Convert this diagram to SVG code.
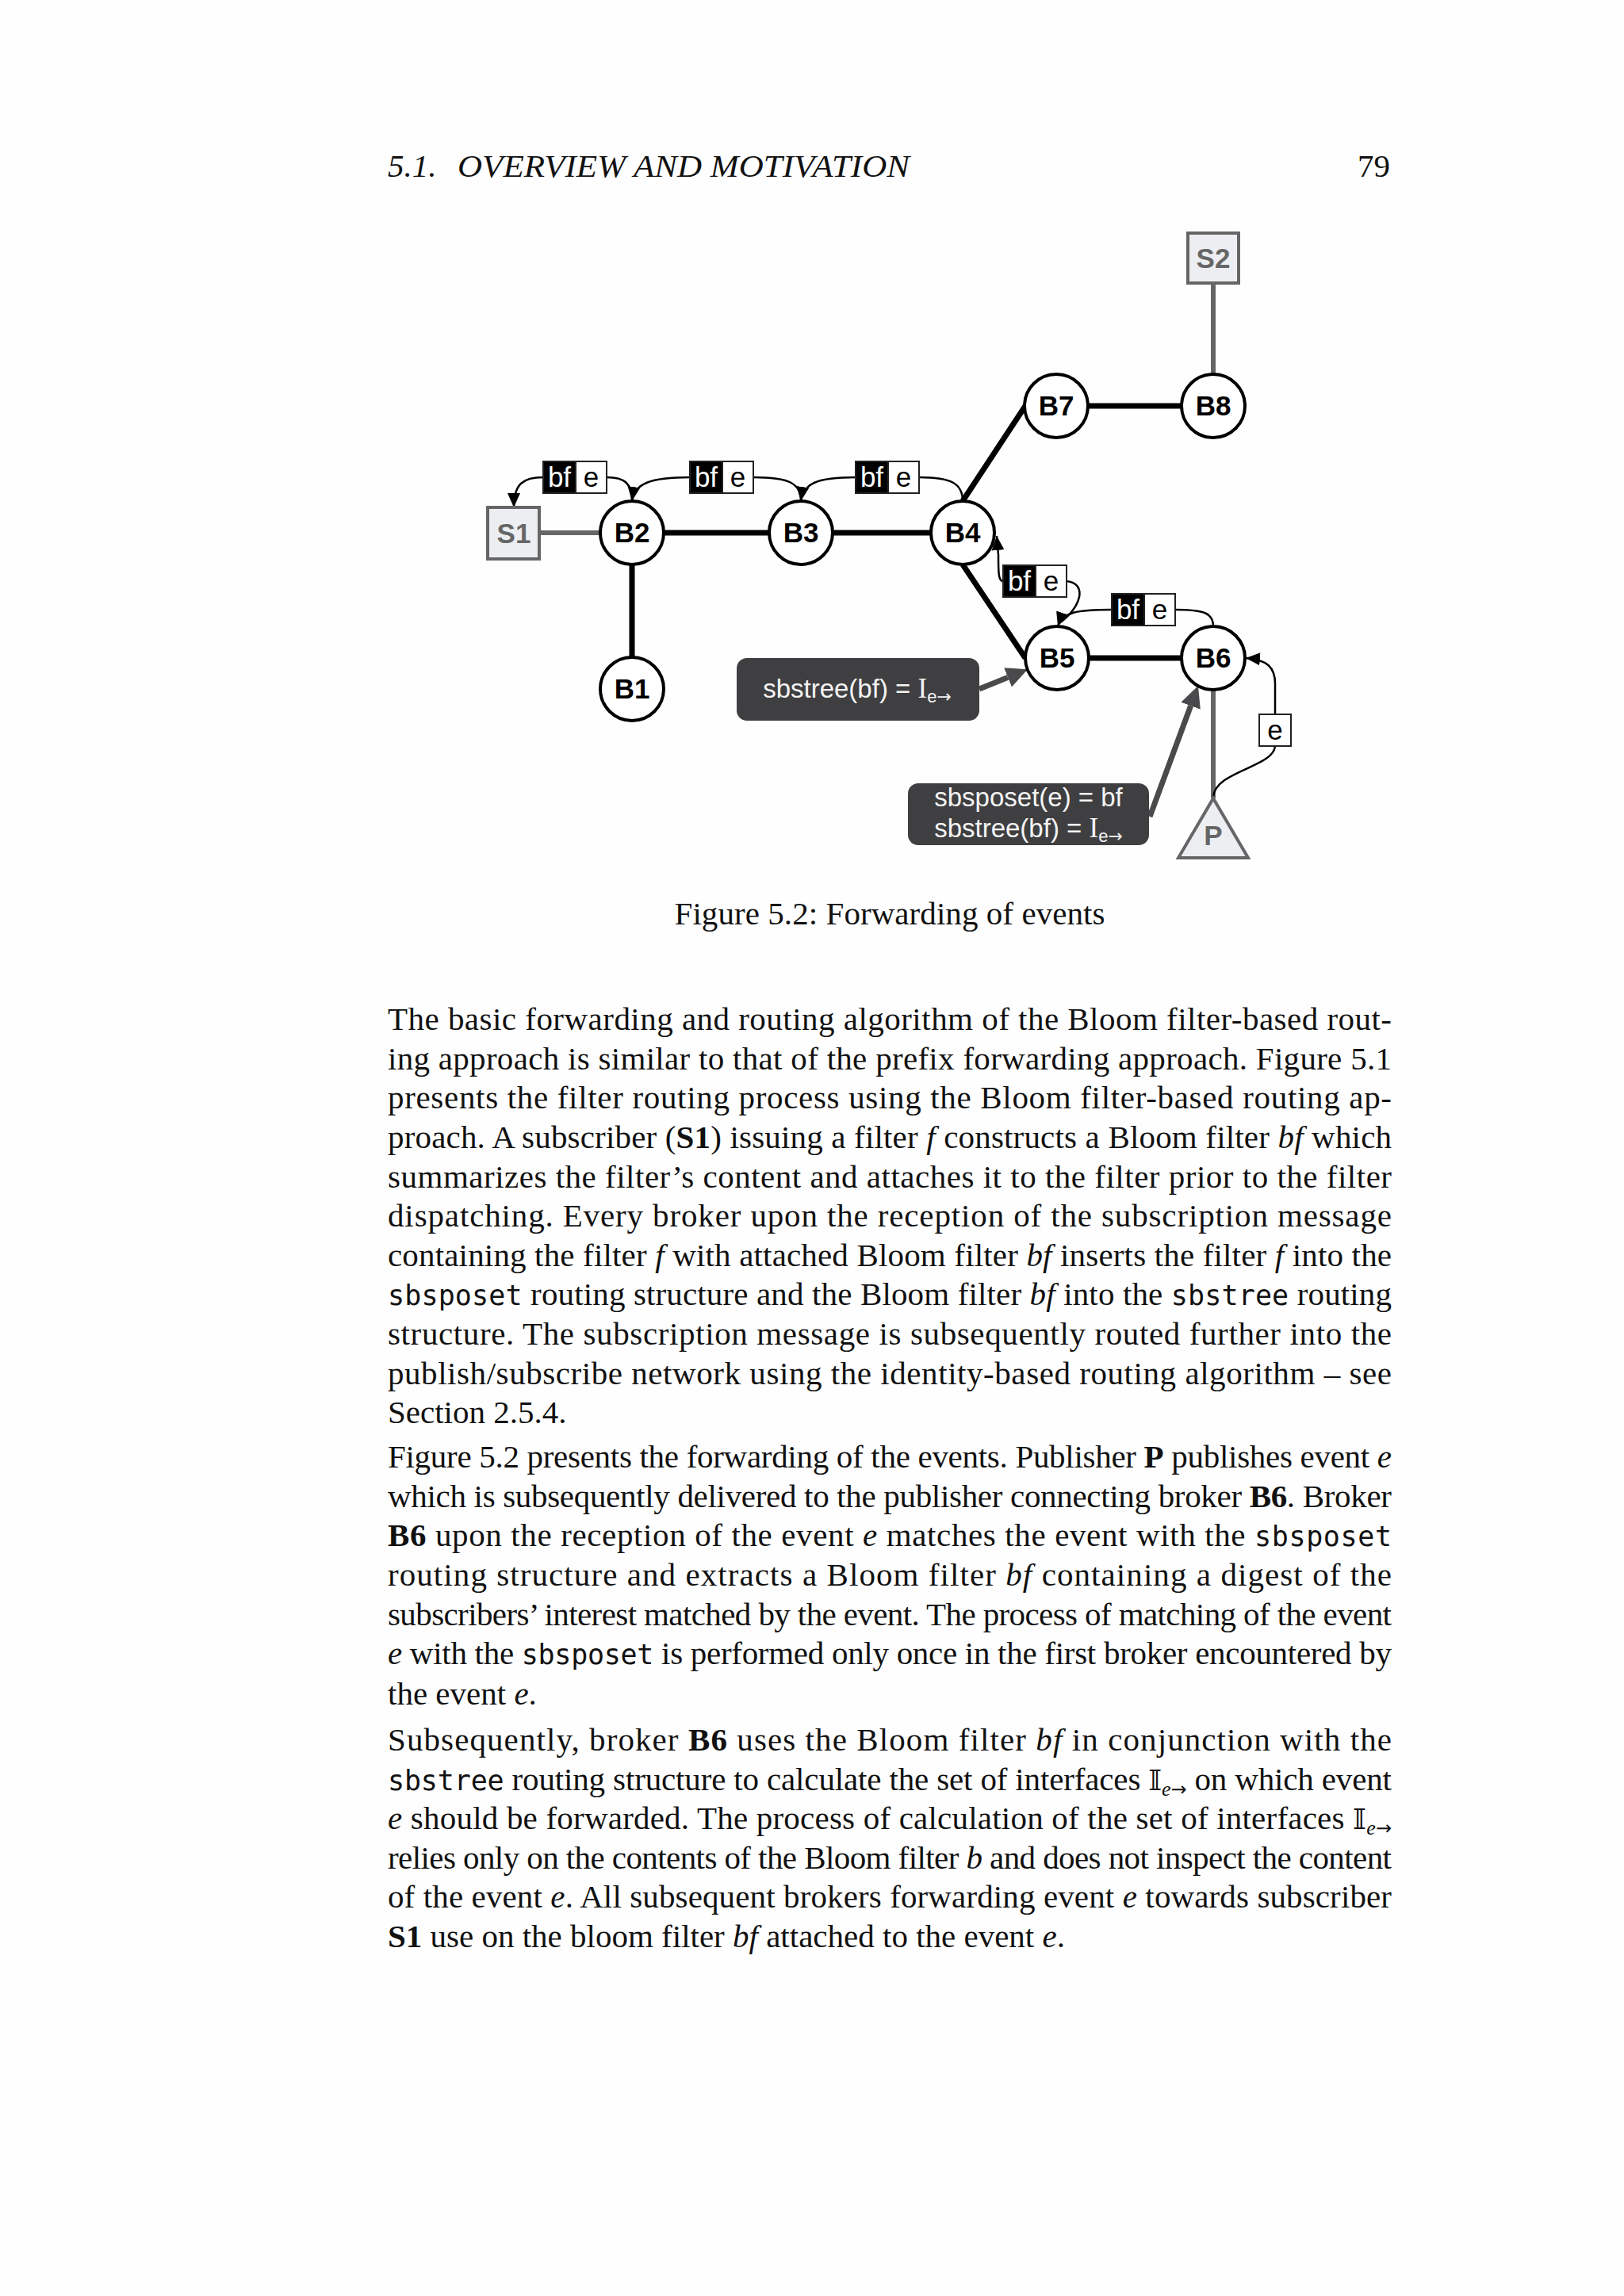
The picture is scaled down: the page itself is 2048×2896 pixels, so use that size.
<svg xmlns="http://www.w3.org/2000/svg" width="2048" height="2896" viewBox="0 0 2048 2896">
<defs>
<style>
.bg{fill:#fefefe}
.node{fill:#fff;stroke:#000;stroke-width:4}
.sub{fill:#eceef2;stroke:#666;stroke-width:4}
.bl{font-family:"Liberation Sans",Arial,sans-serif;font-weight:bold;font-size:35px;text-anchor:middle;fill:#000}
.gl{font-family:"Liberation Sans",Arial,sans-serif;font-weight:bold;font-size:35px;text-anchor:middle;fill:#666}
.edge{stroke:#000;stroke-width:7;fill:none}
.gedge{stroke:#666;stroke-width:6;fill:none}
.flow{stroke:#000;stroke-width:2.5;fill:none}
.garrow{stroke:#4a4a4c;stroke-width:7;fill:none}
.lblk{fill:#000;stroke:#222;stroke-width:2}
.lwht{fill:#fff;stroke:#222;stroke-width:2}
.lt{font-family:"Liberation Sans",Arial,sans-serif;font-size:35px;text-anchor:middle}
.ann{fill:#3f3f41}
.at{font-family:"Liberation Sans",Arial,sans-serif;font-size:33px;fill:#f4f4f4;text-anchor:middle}
.ser{font-family:"Liberation Serif","Times New Roman",serif}
.arr{font-family:"DejaVu Sans",sans-serif}
.body{font-family:"Liberation Serif","Times New Roman",serif;font-size:41px;fill:#111}
.it{font-style:italic}
.bd{font-weight:bold}
.mono{font-family:"DejaVu Sans Mono","Liberation Mono",monospace;font-size:35px}
</style>
<marker id="ah" markerUnits="userSpaceOnUse" markerWidth="19" markerHeight="16" refX="18" refY="8" orient="auto">
<path d="M0,0 L18,8 L0,16 z" fill="#000"/>
</marker>
<marker id="gah" markerUnits="userSpaceOnUse" markerWidth="30" markerHeight="26" refX="0" refY="13" orient="auto">
<path d="M0,0 L27,13 L0,26 z" fill="#4a4a4c"/>
</marker>
</defs>
<rect class="bg" x="0" y="0" width="2048" height="2896"/>

<g id="header">
<text class="body it" x="489" y="223" font-size="42">5.1.</text>
<text class="body it" x="577" y="223" font-size="42" textLength="570" lengthAdjust="spacingAndGlyphs">OVERVIEW AND MOTIVATION</text>
<text class="body" x="1753" y="223" font-size="42" text-anchor="end">79</text>
</g>

<g id="connectors">
<line class="gedge" x1="680" y1="672" x2="757" y2="672"/>
<line class="edge" x1="837" y1="672" x2="970" y2="672"/>
<line class="edge" x1="1050" y1="672" x2="1174" y2="672"/>
<line class="edge" x1="797" y1="712" x2="797" y2="829"/>
<line class="edge" x1="1214" y1="632" x2="1293" y2="512"/>
<line class="edge" x1="1372" y1="512" x2="1490" y2="512"/>
<line class="gedge" x1="1530" y1="357" x2="1530" y2="472"/>
<line class="edge" x1="1214" y1="712" x2="1293" y2="830"/>
<line class="edge" x1="1373" y1="830" x2="1490" y2="830"/>
<line class="gedge" x1="1530" y1="870" x2="1530" y2="1007"/>
<path class="flow" d="M765,602 C788,602 797,610 797,632"/>
<path class="flow" d="M685,602 C660,602 648,610 648,640" marker-end="url(#ah)"/>
<path class="flow" d="M950,602 C996,602 1010,610 1010,632"/>
<path class="flow" d="M870,602 C820,602 800,610 797,632" marker-end="url(#ah)"/>
<path class="flow" d="M1159,602 C1200,602 1214,610 1214,632"/>
<path class="flow" d="M1079,602 C1030,602 1013,610 1010,632" marker-end="url(#ah)"/>
<path class="flow" d="M1344,733 C1372,735 1364,766 1336,786"/>
<path class="flow" d="M1265,733 C1259,733 1259,722 1259,700 L1257,676" marker-end="url(#ah)"/>
<path class="flow" d="M1482,769 C1520,769 1530,774 1530,790"/>
<path class="flow" d="M1402,769 C1358,769 1340,772 1334,790" marker-end="url(#ah)"/>
<path class="flow" d="M1530,1005 C1533,972 1606,968 1608,941"/>
<path class="flow" d="M1608,901 L1608,862 C1608,842 1598,832 1571,830" marker-end="url(#ah)"/>
<line class="garrow" x1="1235" y1="869" x2="1271" y2="854.4" marker-end="url(#gah)"/>
<line class="garrow" x1="1450" y1="1030" x2="1501.6" y2="890.3" marker-end="url(#gah)"/>
</g>

<g id="S1"><rect class="sub" x="615" y="640" width="65" height="65"/><text class="gl" x="648" y="685">S1</text></g>
<g id="S2"><rect class="sub" x="1498" y="294" width="64" height="63"/><text class="gl" x="1530" y="338">S2</text></g>
<g id="B1"><circle class="node" cx="797" cy="869" r="40"/><text class="bl" x="797" y="881">B1</text></g>
<g id="B2"><circle class="node" cx="797" cy="672" r="40"/><text class="bl" x="797" y="684">B2</text></g>
<g id="B3"><circle class="node" cx="1010" cy="672" r="40"/><text class="bl" x="1010" y="684">B3</text></g>
<g id="B4"><circle class="node" cx="1214" cy="672" r="40"/><text class="bl" x="1214" y="684">B4</text></g>
<g id="B5"><circle class="node" cx="1333" cy="830" r="40"/><text class="bl" x="1333" y="842">B5</text></g>
<g id="B6"><circle class="node" cx="1530" cy="830" r="40"/><text class="bl" x="1530" y="842">B6</text></g>
<g id="B7"><circle class="node" cx="1332" cy="512" r="40"/><text class="bl" x="1332" y="524">B7</text></g>
<g id="B8"><circle class="node" cx="1530" cy="512" r="40"/><text class="bl" x="1530" y="524">B8</text></g>
<g id="P"><path class="sub" d="M1530,1007 L1574,1082 L1486,1082 z"/><text class="gl" x="1530" y="1066">P</text></g>

<g id="msg1"><rect class="lblk" x="685" y="582" width="41" height="40"/><rect class="lwht" x="726" y="582" width="39" height="40"/><text class="lt" x="705.5" y="614" fill="#fff">bf</text><text class="lt" x="745.5" y="614">e</text></g>
<g id="msg2"><rect class="lblk" x="870" y="582" width="41" height="40"/><rect class="lwht" x="911" y="582" width="39" height="40"/><text class="lt" x="890.5" y="614" fill="#fff">bf</text><text class="lt" x="930.5" y="614">e</text></g>
<g id="msg3"><rect class="lblk" x="1079" y="582" width="41" height="40"/><rect class="lwht" x="1120" y="582" width="39" height="40"/><text class="lt" x="1099.5" y="614" fill="#fff">bf</text><text class="lt" x="1139.5" y="614">e</text></g>
<g id="msg4"><rect class="lblk" x="1265" y="713" width="41" height="40"/><rect class="lwht" x="1306" y="713" width="39" height="40"/><text class="lt" x="1285.5" y="745" fill="#fff">bf</text><text class="lt" x="1325.5" y="745">e</text></g>
<g id="msg5"><rect class="lblk" x="1402" y="749" width="41" height="40"/><rect class="lwht" x="1443" y="749" width="39" height="40"/><text class="lt" x="1422.5" y="781" fill="#fff">bf</text><text class="lt" x="1462.5" y="781">e</text></g>
<g id="msg6"><rect class="lwht" x="1588" y="901" width="40" height="40"/><text class="lt" x="1608" y="933">e</text></g>

<g id="note1"><rect class="ann" x="929" y="830" width="306" height="79" rx="13"/>
<text class="at" x="1081" y="880">sbstree(bf) = <tspan class="ser" font-size="35">I</tspan><tspan font-size="22" dy="6">e</tspan><tspan class="arr" font-size="22">→</tspan></text></g>
<g id="note2"><rect class="ann" x="1145" y="988" width="304" height="78" rx="13"/>
<text class="at" x="1297" y="1017">sbsposet(e) = bf</text>
<text class="at" x="1297" y="1056">sbstree(bf) = <tspan class="ser" font-size="35">I</tspan><tspan font-size="22" dy="6">e</tspan><tspan class="arr" font-size="22">→</tspan></text></g>

<g id="caption"><text class="body" x="1122" y="1166" text-anchor="middle" textLength="543" lengthAdjust="spacing">Figure 5.2: Forwarding of events</text></g>

<g id="text">
<text class="body" x="489" y="1299" textLength="1266" lengthAdjust="spacing">The basic forwarding and routing algorithm of the Bloom filter-based rout-</text>
<text class="body" x="489" y="1349" textLength="1266" lengthAdjust="spacing">ing approach is similar to that of the prefix forwarding approach. Figure 5.1</text>
<text class="body" x="489" y="1398" textLength="1266" lengthAdjust="spacing">presents the filter routing process using the Bloom filter-based routing ap-</text>
<text class="body" x="489" y="1448" textLength="1266" lengthAdjust="spacing">proach. A subscriber (<tspan class="bd">S1</tspan>) issuing a filter <tspan class="it">f</tspan> constructs a Bloom filter <tspan class="it">bf</tspan> which</text>
<text class="body" x="489" y="1498" textLength="1266" lengthAdjust="spacing">summarizes the filter’s content and attaches it to the filter prior to the filter</text>
<text class="body" x="489" y="1547" textLength="1266" lengthAdjust="spacing">dispatching.  Every broker upon the reception of the subscription message</text>
<text class="body" x="489" y="1597" textLength="1266" lengthAdjust="spacing">containing the filter <tspan class="it">f</tspan> with attached Bloom filter <tspan class="it">bf</tspan> inserts the filter <tspan class="it">f</tspan> into the</text>
<text class="body" x="489" y="1646" textLength="1266" lengthAdjust="spacing"><tspan class="mono">sbsposet</tspan> routing structure and the Bloom filter <tspan class="it">bf</tspan> into the <tspan class="mono">sbstree</tspan> routing</text>
<text class="body" x="489" y="1696" textLength="1266" lengthAdjust="spacing">structure.  The subscription message is subsequently routed further into the</text>
<text class="body" x="489" y="1746" textLength="1266" lengthAdjust="spacing">publish/subscribe network using the identity-based routing algorithm – see</text>
<text class="body" x="489" y="1795">Section 2.5.4.</text>

<text class="body" x="489" y="1851" textLength="1266" lengthAdjust="spacing">Figure 5.2 presents the forwarding of the events. Publisher <tspan class="bd">P</tspan> publishes event <tspan class="it">e</tspan></text>
<text class="body" x="489" y="1901" textLength="1266" lengthAdjust="spacing">which is subsequently delivered to the publisher connecting broker <tspan class="bd">B6</tspan>. Broker</text>
<text class="body" x="489" y="1950" textLength="1266" lengthAdjust="spacing"><tspan class="bd">B6</tspan> upon the reception of the event <tspan class="it">e</tspan> matches the event with the <tspan class="mono">sbsposet</tspan></text>
<text class="body" x="489" y="2000" textLength="1266" lengthAdjust="spacing">routing structure and extracts a Bloom filter <tspan class="it">bf</tspan> containing a digest of the</text>
<text class="body" x="489" y="2050" textLength="1266" lengthAdjust="spacing">subscribers’ interest matched by the event. The process of matching of the event</text>
<text class="body" x="489" y="2099" textLength="1266" lengthAdjust="spacing"><tspan class="it">e</tspan> with the <tspan class="mono">sbsposet</tspan> is performed only once in the first broker encountered by</text>
<text class="body" x="489" y="2150">the event <tspan class="it">e</tspan>.</text>

<text class="body" x="489" y="2208" textLength="1266" lengthAdjust="spacing">Subsequently, broker <tspan class="bd">B6</tspan> uses the Bloom filter <tspan class="it">bf</tspan> in conjunction with the</text>
<text class="body" x="489" y="2258" textLength="1266" lengthAdjust="spacing"><tspan class="mono">sbstree</tspan> routing structure to calculate the set of interfaces <tspan font-family="DejaVu Serif,DejaVu Sans,serif" font-size="36">𝕀</tspan><tspan class="it" font-size="26" dy="7">e</tspan><tspan class="arr" font-size="24">→</tspan><tspan dy="-7"> on which event</tspan></text>
<text class="body" x="489" y="2307" textLength="1266" lengthAdjust="spacing"><tspan class="it">e</tspan> should be forwarded. The process of calculation of the set of interfaces <tspan font-family="DejaVu Serif,DejaVu Sans,serif" font-size="36">𝕀</tspan><tspan class="it" font-size="26" dy="7">e</tspan><tspan class="arr" font-size="24">→</tspan></text>
<text class="body" x="489" y="2357" textLength="1266" lengthAdjust="spacing">relies only on the contents of the Bloom filter <tspan class="it">b</tspan> and does not inspect the content</text>
<text class="body" x="489" y="2406" textLength="1266" lengthAdjust="spacing">of the event <tspan class="it">e</tspan>. All subsequent brokers forwarding event <tspan class="it">e</tspan> towards subscriber</text>
<text class="body" x="489" y="2456"><tspan class="bd">S1</tspan> use on the bloom filter <tspan class="it">bf</tspan> attached to the event <tspan class="it">e</tspan>.</text>
</g>
</svg>
